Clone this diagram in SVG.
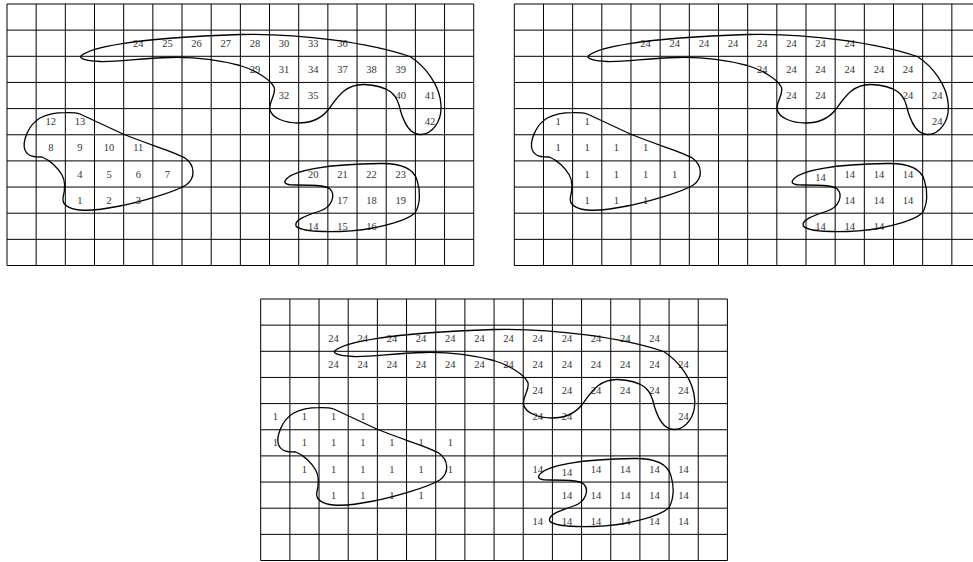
<svg xmlns="http://www.w3.org/2000/svg" xmlns:xlink="http://www.w3.org/1999/xlink" width="973" height="562" viewBox="0 0 973 562">
<style>
.g{fill:none;stroke:#000;stroke-width:1}
.b{fill:none;stroke:#000;stroke-width:1.3}
text{font-family:"Liberation Serif","Times New Roman",serif;font-size:10.5px;fill:#333;text-anchor:middle}
</style>
<defs>
<path id="grid" class="g" d="M7,4V265.5M36.17,4V265.5M65.34,4V265.5M94.51,4V265.5M123.68,4V265.5M152.85,4V265.5M182.02,4V265.5M211.19,4V265.5M240.36,4V265.5M269.53,4V265.5M298.7,4V265.5M327.87,4V265.5M357.04,4V265.5M386.21,4V265.5M415.38,4V265.5M444.55,4V265.5M473.72,4V265.5M7,4H473.72M7,30.15H473.72M7,56.3H473.72M7,82.45H473.72M7,108.6H473.72M7,134.75H473.72M7,160.9H473.72M7,187.05H473.72M7,213.2H473.72M7,239.35H473.72M7,265.5H473.72"/>
<path id="blobA" class="b" d="M81,56C89,48 130,38 240,34.5C300,33 370,43 410,56.5C425,66 440,85 441,105C442,122 432,134 421,134.5C410,135 403,122 399,105C396,95 390,86 364,84.5C345,84 337,98 328,110C320,120 308,123 298,123C285,123 272,118 270,110C268,102 277,94 274,87C270,79 255,70 240,65.5C215,59 190,57 170,57.5C140,58 120,62 100,61.5C88,61 79,59 81,56Z"/>
<path id="blobB" class="b" d="M65,112.7C72,112.5 77,113 80,114L123,134C150,145 175,152 185,158C195,165 196,178 186,185C175,192 140,202 120,206C105,209 90,211 80,210C68,209 62,204 63,198C65,190 66,182 62,175C58,168 50,160 42,157C35,157 28,157 25,150C22,142 28,125 40,118C48,114 56,112.7 65,112.7Z"/>
<path id="blobC" class="b" d="M285,181C290,170 330,164 380,163.5C405,163 414,170 417,180C421,192 420,205 415,213C405,222 370,231 340,231.5C320,232 300,231 296,226C294,220 305,216 320,211C332,207 336,195 330,189C325,185 310,185 296,185C288,185 284,184 285,181Z"/>
</defs>

<g id="panel-left">
<use xlink:href="#grid" href="#grid"/>
<g id="left-labels">
<text x="138.3" y="46.7">24</text><text x="167.4" y="46.7">25</text><text x="196.6" y="46.7">26</text><text x="225.8" y="46.7">27</text><text x="254.9" y="46.7">28</text><text x="284.1" y="46.7">30</text><text x="313.3" y="46.7">33</text><text x="342.4" y="46.7">36</text>
<text x="254.9" y="72.9">29</text><text x="284.1" y="72.9">31</text><text x="313.3" y="72.9">34</text><text x="342.4" y="72.9">37</text><text x="371.6" y="72.9">38</text><text x="400.8" y="72.9">39</text>
<text x="284.1" y="99">32</text><text x="313.3" y="99">35</text><text x="400.8" y="99">40</text><text x="429.9" y="99">41</text>
<text x="50.8" y="125.2">12</text><text x="79.9" y="125.2">13</text><text x="429.9" y="125.2">42</text>
<text x="50.8" y="151.3">8</text><text x="79.9" y="151.3">9</text><text x="109.1" y="151.3">10</text><text x="138.3" y="151.3">11</text>
<text x="79.9" y="177.5">4</text><text x="109.1" y="177.5">5</text><text x="138.3" y="177.5">6</text><text x="167.4" y="177.5">7</text><text x="313.3" y="177.5">20</text><text x="342.4" y="177.5">21</text><text x="371.6" y="177.5">22</text><text x="400.8" y="177.5">23</text>
<text x="79.9" y="203.6">1</text><text x="109.1" y="203.6">2</text><text x="138.3" y="203.6">3</text><text x="342.4" y="203.6">17</text><text x="371.6" y="203.6">18</text><text x="400.8" y="203.6">19</text>
<text x="313.3" y="229.8">14</text><text x="342.4" y="229.8">15</text><text x="371.6" y="229.8">16</text>
</g>
<g id="left-regions"><use xlink:href="#blobA" href="#blobA"/><use xlink:href="#blobB" href="#blobB"/><use xlink:href="#blobC" href="#blobC"/></g>
</g>

<g id="panel-right" transform="translate(507.3,0)">
<use xlink:href="#grid" href="#grid"/>
<g id="right-labels">
<text x="138.3" y="46.7">24</text><text x="167.4" y="46.7">24</text><text x="196.6" y="46.7">24</text><text x="225.8" y="46.7">24</text><text x="254.9" y="46.7">24</text><text x="284.1" y="46.7">24</text><text x="313.3" y="46.7">24</text><text x="342.4" y="46.7">24</text>
<text x="254.9" y="72.9">24</text><text x="284.1" y="72.9">24</text><text x="313.3" y="72.9">24</text><text x="342.4" y="72.9">24</text><text x="371.6" y="72.9">24</text><text x="400.8" y="72.9">24</text>
<text x="284.1" y="99">24</text><text x="313.3" y="99">24</text><text x="400.8" y="99">24</text><text x="429.9" y="99">24</text>
<text x="50.8" y="125.2">1</text><text x="79.9" y="125.2">1</text><text x="429.9" y="125.2">24</text>
<text x="50.8" y="151.3">1</text><text x="79.9" y="151.3">1</text><text x="109.1" y="151.3">1</text><text x="138.3" y="151.3">1</text>
<text x="79.9" y="177.5">1</text><text x="109.1" y="177.5">1</text><text x="138.3" y="177.5">1</text><text x="167.4" y="177.5">1</text><text x="313.3" y="180.5">14</text><text x="342.4" y="177.5">14</text><text x="371.6" y="177.5">14</text><text x="400.8" y="177.5">14</text>
<text x="79.9" y="203.6">1</text><text x="109.1" y="203.6">1</text><text x="138.3" y="203.6">1</text><text x="342.4" y="203.6">14</text><text x="371.6" y="203.6">14</text><text x="400.8" y="203.6">14</text>
<text x="313.3" y="229.8">14</text><text x="342.4" y="229.8">14</text><text x="371.6" y="229.8">14</text>
</g>
<g id="right-regions"><use xlink:href="#blobA" href="#blobA"/><use xlink:href="#blobB" href="#blobB"/><use xlink:href="#blobC" href="#blobC"/></g>
</g>

<g id="panel-bottom" transform="translate(253.7,295)">
<use xlink:href="#grid" href="#grid"/>
<g id="bottom-labels">
<text x="79.9" y="46.7">24</text><text x="109.1" y="46.7">24</text><text x="138.3" y="46.7">24</text><text x="167.4" y="46.7">24</text><text x="196.6" y="46.7">24</text><text x="225.8" y="46.7">24</text><text x="254.9" y="46.7">24</text><text x="284.1" y="46.7">24</text><text x="313.3" y="46.7">24</text><text x="342.4" y="46.7">24</text><text x="371.6" y="46.7">24</text><text x="400.8" y="46.7">24</text>
<text x="79.9" y="72.9">24</text><text x="109.1" y="72.9">24</text><text x="138.3" y="72.9">24</text><text x="167.4" y="72.9">24</text><text x="196.6" y="72.9">24</text><text x="225.8" y="72.9">24</text><text x="254.9" y="72.9">24</text><text x="284.1" y="72.9">24</text><text x="313.3" y="72.9">24</text><text x="342.4" y="72.9">24</text><text x="371.6" y="72.9">24</text><text x="400.8" y="72.9">24</text><text x="429.9" y="72.9">24</text>
<text x="284.1" y="99">24</text><text x="313.3" y="99">24</text><text x="342.4" y="99">24</text><text x="371.6" y="99">24</text><text x="400.8" y="99">24</text><text x="429.9" y="99">24</text>
<text x="21.6" y="125.2">1</text><text x="50.8" y="125.2">1</text><text x="79.9" y="125.2">1</text><text x="109.1" y="125.2">1</text><text x="284.1" y="125.2">24</text><text x="313.3" y="125.2">24</text><text x="429.9" y="125.2">24</text>
<text x="21.6" y="151.3">1</text><text x="50.8" y="151.3">1</text><text x="79.9" y="151.3">1</text><text x="109.1" y="151.3">1</text><text x="138.3" y="151.3">1</text><text x="167.4" y="151.3">1</text><text x="196.6" y="151.3">1</text>
<text x="50.8" y="177.5">1</text><text x="79.9" y="177.5">1</text><text x="109.1" y="177.5">1</text><text x="138.3" y="177.5">1</text><text x="167.4" y="177.5">1</text><text x="196.6" y="177.5">1</text><text x="284.1" y="177.5">14</text><text x="313.3" y="180.5">14</text><text x="342.4" y="177.5">14</text><text x="371.6" y="177.5">14</text><text x="400.8" y="177.5">14</text><text x="429.9" y="177.5">14</text>
<text x="79.9" y="203.6">1</text><text x="109.1" y="203.6">1</text><text x="138.3" y="203.6">1</text><text x="167.4" y="203.6">1</text><text x="313.3" y="203.6">14</text><text x="342.4" y="203.6">14</text><text x="371.6" y="203.6">14</text><text x="400.8" y="203.6">14</text><text x="429.9" y="203.6">14</text>
<text x="284.1" y="229.8">14</text><text x="313.3" y="229.8">14</text><text x="342.4" y="229.8">14</text><text x="371.6" y="229.8">14</text><text x="400.8" y="229.8">14</text><text x="429.9" y="229.8">14</text>
</g>
<g id="bottom-regions"><use xlink:href="#blobA" href="#blobA"/><use xlink:href="#blobB" href="#blobB"/><use xlink:href="#blobC" href="#blobC"/></g>
</g>
</svg>
